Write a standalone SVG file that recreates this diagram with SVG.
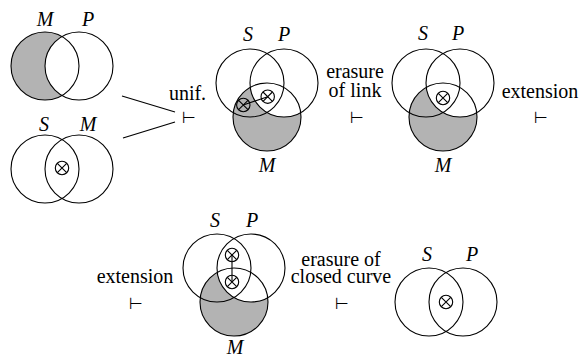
<svg xmlns="http://www.w3.org/2000/svg" width="580" height="358" viewBox="0 0 580 358">
<style>
.c{fill:none;stroke:#000;stroke-width:1.1}
.w{fill:#fff;stroke:none}
.g{fill:#b3b3b3;stroke:none}
.ln{stroke:#000;stroke-width:1.1;fill:none}
.s{font-family:"DejaVu Sans",sans-serif;font-size:16px}
.i{font-style:italic}
</style>
<defs>
<g id="ox"><circle r="6.7" fill="none" stroke="#000" stroke-width="1.1"/><path d="M-4.7,-4.7L4.7,4.7M4.7,-4.7L-4.7,4.7" stroke="#000" stroke-width="1.1"/></g>
</defs>
<rect width="580" height="358" fill="#fff"/>
<g font-family="Liberation Serif, DejaVu Serif, serif" font-size="20" text-anchor="middle" fill="#000">
<g id="d1">
<circle class="g" cx="45" cy="66" r="34"/>
<circle class="w" cx="79" cy="66" r="34"/>
<circle class="c" cx="45" cy="66" r="34"/>
<circle class="c" cx="79" cy="66" r="34"/>
<text class="i" x="45" y="26">M</text>
<text class="i" x="88" y="26">P</text>
</g>
<g id="d2">
<circle class="c" cx="45" cy="169" r="34"/>
<circle class="c" cx="79" cy="169" r="34"/>
<use href="#ox" x="62" y="168"/>
<text class="i" x="44" y="131">S</text>
<text class="i" x="88" y="131">M</text>
</g>
<g id="connectors">
<line class="ln" x1="122" y1="96" x2="175" y2="112"/>
<line class="ln" x1="123" y1="138" x2="175" y2="122"/>
</g>
<g id="r1">
<text x="187.5" y="100">unif.</text>
<text class="s" x="189" y="123">⊢</text>
</g>
<g id="d3">
<circle class="g" cx="267" cy="117" r="34"/>
<circle class="w" cx="284" cy="83" r="34"/>
<circle class="c" cx="250" cy="83" r="34"/>
<circle class="c" cx="284" cy="83" r="34"/>
<circle class="c" cx="267" cy="117" r="34"/>
<line class="ln" x1="243.3" y1="105" x2="267.7" y2="96.7"/>
<use href="#ox" x="243.3" y="105"/>
<use href="#ox" x="267.7" y="96.7"/>
<text class="i" x="248" y="41">S</text>
<text class="i" x="284" y="41">P</text>
<text class="i" x="267" y="172">M</text>
</g>
<g id="r2">
<text x="355" y="78">erasure</text>
<text x="355" y="97">of link</text>
<text class="s" x="357" y="123">⊢</text>
</g>
<g id="d4">
<circle class="g" cx="443" cy="117" r="34"/>
<circle class="w" cx="460" cy="83" r="34"/>
<circle class="c" cx="426" cy="83" r="34"/>
<circle class="c" cx="460" cy="83" r="34"/>
<circle class="c" cx="443" cy="117" r="34"/>
<use href="#ox" x="443" y="98"/>
<text class="i" x="423" y="40">S</text>
<text class="i" x="458" y="40">P</text>
<text class="i" x="443" y="172">M</text>
</g>
<g id="r3">
<text x="540" y="98">extension</text>
<text class="s" x="541" y="123">⊢</text>
</g>
<g id="r4">
<text x="135" y="283">extension</text>
<text class="s" x="136" y="309">⊢</text>
</g>
<g id="d5">
<circle class="g" cx="234" cy="302" r="34"/>
<circle class="w" cx="251" cy="268" r="34"/>
<circle class="c" cx="217" cy="268" r="34"/>
<circle class="c" cx="251" cy="268" r="34"/>
<circle class="c" cx="234" cy="302" r="34"/>
<line class="ln" x1="232" y1="255" x2="232" y2="282"/>
<use href="#ox" x="232" y="255"/>
<use href="#ox" x="232" y="282"/>
<text class="i" x="215" y="227">S</text>
<text class="i" x="252" y="227">P</text>
<text class="i" x="235" y="354">M</text>
</g>
<g id="r5">
<text x="341" y="266">erasure of</text>
<text x="341" y="283">closed curve</text>
<text class="s" x="342" y="309">⊢</text>
</g>
<g id="d6">
<circle class="c" cx="429" cy="302" r="34"/>
<circle class="c" cx="463" cy="302" r="34"/>
<use href="#ox" x="446" y="302"/>
<text class="i" x="427" y="261">S</text>
<text class="i" x="472" y="261">P</text>
</g>
</g>
</svg>
